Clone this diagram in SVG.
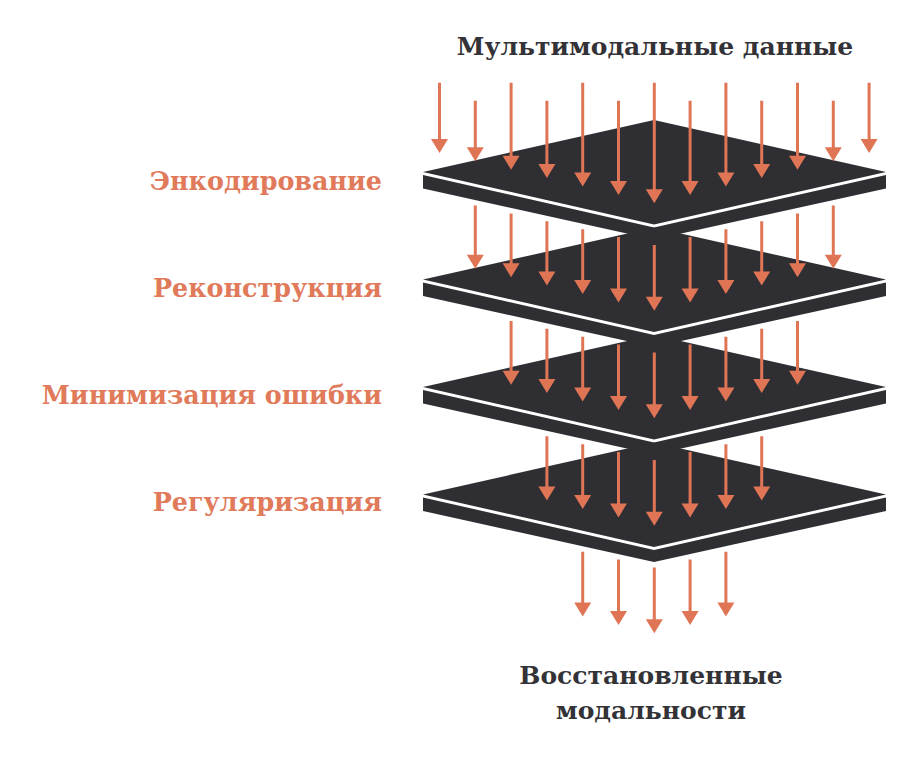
<svg xmlns="http://www.w3.org/2000/svg" xmlns:xlink="http://www.w3.org/1999/xlink" width="910" height="780" viewBox="0 0 910 780">
<style>
.top{fill:#2f2e33}
.side{fill:#2f2e33}
.ln{stroke:#e07556;stroke-width:3;fill:none}
.hd{fill:#e07556}
.t{font-family:"DejaVu Serif","Liberation Serif",serif;font-weight:bold;font-size:25px}
.lb{font-size:25.4px}
.dark{fill:#333236}
.or{fill:#e07a5a}
</style>
<defs>
<polygon id="h" class="hd" points="-8.5,-14 8.5,-14 0,0"/>
<g id="plate">
<polygon class="top" points="654,120 423,172 654,224.5 886,172"/>
<polygon class="side" points="423,175 654,227.5 886,175 886,188.5 654,239.5 423,188.5"/>
</g>
</defs>
<rect width="910" height="780" fill="#fff"/>
<g id="plates">
<use id="plate4" href="#plate" y="322.5"/>
<use id="plate3" href="#plate" y="215"/>
<use id="plate2" href="#plate" y="107.5"/>
<use id="plate1" href="#plate" y="0"/>
</g>
<g id="connectors">
<path class="ln" d="M439.5 82.7V140M475.3 100.7V148.3M511.1 82.7V156.7M546.9 100.7V165.1M582.7 82.7V173.5M618.5 100.7V181.9M654.3 82.7V190.3M690.1 100.7V181.9M725.9 82.7V173.5M761.7 100.7V165.1M797.5 82.7V156.7M833.3 100.7V148.3M869.1 82.7V140"/>
<use href="#h" x="439.5" y="152.9"/><use href="#h" x="475.3" y="161.3"/><use href="#h" x="511.1" y="169.7"/><use href="#h" x="546.9" y="178.1"/><use href="#h" x="582.7" y="186.5"/><use href="#h" x="618.5" y="194.9"/><use href="#h" x="654.3" y="203.3"/><use href="#h" x="690.1" y="194.9"/><use href="#h" x="725.9" y="186.5"/><use href="#h" x="761.7" y="178.1"/><use href="#h" x="797.5" y="169.7"/><use href="#h" x="833.3" y="161.3"/><use href="#h" x="869.1" y="152.9"/>
<path class="ln" d="M475.3 205.5V255.8M511.1 213.4V264.2M546.9 221.3V272.6M582.7 229.2V281M618.5 237.1V289.4M654.3 245V297.8M690.1 237.1V289.4M725.9 229.2V281M761.7 221.3V272.6M797.5 213.4V264.2M833.3 205.5V255.8"/>
<use href="#h" x="475.3" y="268.8"/><use href="#h" x="511.1" y="277.2"/><use href="#h" x="546.9" y="285.6"/><use href="#h" x="582.7" y="294"/><use href="#h" x="618.5" y="302.4"/><use href="#h" x="654.3" y="310.8"/><use href="#h" x="690.1" y="302.4"/><use href="#h" x="725.9" y="294"/><use href="#h" x="761.7" y="285.6"/><use href="#h" x="797.5" y="277.2"/><use href="#h" x="833.3" y="268.8"/>
<path class="ln" d="M511.1 320.9V371.7M546.9 328.8V380.1M582.7 336.7V388.5M618.5 344.6V396.9M654.3 352.5V405.3M690.1 344.6V396.9M725.9 336.7V388.5M761.7 328.8V380.1M797.5 320.9V371.7"/>
<use href="#h" x="511.1" y="384.7"/><use href="#h" x="546.9" y="393.1"/><use href="#h" x="582.7" y="401.5"/><use href="#h" x="618.5" y="409.9"/><use href="#h" x="654.3" y="418.3"/><use href="#h" x="690.1" y="409.9"/><use href="#h" x="725.9" y="401.5"/><use href="#h" x="761.7" y="393.1"/><use href="#h" x="797.5" y="384.7"/>
<path class="ln" d="M546.9 436.3V487.6M582.7 444.2V496M618.5 452.1V504.4M654.3 460V512.8M690.1 452.1V504.4M725.9 444.2V496M761.7 436.3V487.6"/>
<use href="#h" x="546.9" y="500.6"/><use href="#h" x="582.7" y="509"/><use href="#h" x="618.5" y="517.4"/><use href="#h" x="654.3" y="525.8"/><use href="#h" x="690.1" y="517.4"/><use href="#h" x="725.9" y="509"/><use href="#h" x="761.7" y="500.6"/>
<path class="ln" d="M582.7 551.7V603.5M618.5 559.6V611.9M654.3 567.5V620.3M690.1 559.6V611.9M725.9 551.7V603.5"/>
<use href="#h" x="582.7" y="616.5"/><use href="#h" x="618.5" y="624.9"/><use href="#h" x="654.3" y="633.3"/><use href="#h" x="690.1" y="624.9"/><use href="#h" x="725.9" y="616.5"/>
</g>
<g id="labels">
<text class="t dark" x="655" y="55" text-anchor="middle">Мультимодальные данные</text>
<text class="t lb or" x="382" y="190" text-anchor="end">Энкодирование</text>
<text class="t lb or" x="382" y="297" text-anchor="end">Реконструкция</text>
<text class="t lb or" x="382" y="404" text-anchor="end">Минимизация ошибки</text>
<text class="t lb or" x="382" y="511" text-anchor="end">Регуляризация</text>
<text class="t dark" x="651" y="684" text-anchor="middle">Восстановленные</text>
<text class="t dark" x="651" y="719" text-anchor="middle">модальности</text>
</g>
</svg>
